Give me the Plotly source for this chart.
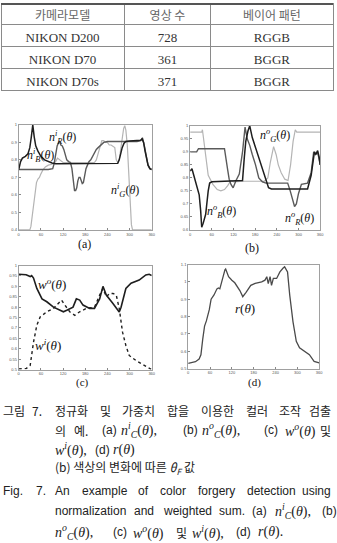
import plotly.graph_objects as go

W, H = 337, 543

# ---------------- table data ----------------
tbl_header = ["카메라모델", "영상 수", "베이어 패턴"]
tbl_models = ["NIKON D200", "NIKON D70", "NIKON D70s"]
tbl_counts = ["728", "361", "371"]
tbl_patterns = ["RGGB", "BGGR", "BGGR"]

# ---------------- (a) n_C^i ----------------
a_th_B = [0, 5, 10, 18, 25, 30, 34, 38, 42, 46, 52, 60, 70, 80, 90, 100, 130, 160, 190, 220, 250, 268, 272,
          276, 280, 285, 290, 300, 310, 320, 330, 334, 338, 342, 346, 350, 355, 360]
a_B = [0.745, 0.79, 0.81, 0.82, 0.835, 0.87, 0.93, 1.0, 0.93, 0.88, 0.85, 0.82, 0.80, 0.79, 0.782, 0.778, 0.778,
       0.778, 0.778, 0.778, 0.778, 0.78, 0.80, 0.84, 0.87, 0.895, 0.905, 0.908, 0.91, 0.91, 0.912, 0.92, 0.9,
       0.85, 0.8, 0.77, 0.75, 0.745]
a_th_R = [0, 20, 40, 60, 80, 92, 96, 100, 104, 108, 111, 114, 118, 122, 126, 130, 135, 140, 144, 148, 151, 154,
          157, 160, 163, 166, 169, 172, 175, 178, 182, 186, 190, 195, 200, 205, 210, 215, 220, 225, 230, 240,
          260, 280, 300, 320, 330, 335, 340, 345, 350, 355, 360]
a_R = [0.745, 0.745, 0.745, 0.745, 0.745, 0.75, 0.78, 0.83, 0.88, 0.9, 0.905, 0.885, 0.88, 0.86, 0.83, 0.8,
       0.79, 0.785, 0.75, 0.68, 0.625, 0.625, 0.64, 0.68, 0.7, 0.7, 0.68, 0.665, 0.67, 0.71, 0.75, 0.77, 0.79,
       0.8, 0.82, 0.84, 0.86, 0.87, 0.88, 0.89, 0.9, 0.905, 0.905, 0.905, 0.905, 0.905, 0.91, 0.925, 0.88,
       0.82, 0.77, 0.75, 0.745]
a_th_G = [0, 30, 33, 36, 40, 44, 48, 52, 56, 60, 66, 72, 80, 90, 100, 105, 110, 115, 120, 150, 180, 205, 210,
          215, 220, 225, 230, 235, 240, 245, 250, 255, 260, 264, 268, 272, 276, 280, 284, 287, 290, 294, 298,
          302, 305, 308, 320, 340, 360]
a_G = [0.4, 0.4, 0.42, 0.47, 0.55, 0.62, 0.67, 0.69, 0.7, 0.72, 0.745, 0.76, 0.77, 0.775, 0.79, 0.81, 0.8,
       0.79, 0.785, 0.785, 0.785, 0.785, 0.8, 0.84, 0.88, 0.91, 0.91, 0.9, 0.9, 0.885, 0.885, 0.875, 0.87, 0.8,
       0.785, 0.8, 0.86, 0.93, 0.98, 0.995, 0.97, 0.88, 0.7, 0.52, 0.43, 0.4, 0.4, 0.4, 0.4]

# ---------------- (b) n_C^o ----------------
b_th_R = [0, 18, 23, 95, 104, 108, 113, 119, 127, 136, 145, 152, 158, 165, 172, 181, 190, 200, 210, 270, 277,
          283, 289, 294, 300, 308, 325, 335, 342, 347, 352, 356, 360]
b_R = [0.9, 0.9, 0.912, 0.912, 0.83, 0.795, 0.775, 0.762, 0.79, 0.815, 0.9, 0.995, 0.95, 0.925, 0.89, 0.85,
       0.8, 0.785, 0.78, 0.78, 0.75, 0.72, 0.69, 0.7, 0.74, 0.775, 0.78, 0.82, 0.9, 0.89, 0.9, 0.88, 0.85]
b_th_B = [0, 5, 10, 18, 25, 29, 32, 36, 43, 50, 54, 60, 145, 150, 154, 160, 165, 172, 181, 194, 208, 217, 225,
          325, 335, 340, 344, 348, 353, 357, 360]
b_B = [0.826, 0.835, 0.81, 0.775, 0.735, 0.675, 0.61, 0.625, 0.66, 0.75, 0.78, 0.785, 0.79, 0.88, 0.94, 0.98,
       1.0, 0.955, 0.915, 0.865, 0.795, 0.762, 0.757, 0.757, 0.81, 0.87, 0.9, 0.89, 0.905, 0.88, 0.85]
b_th_G = [0, 32, 34, 36, 41, 50, 63, 75, 85, 95, 104, 113, 120, 150, 205, 215, 222, 231, 238, 244, 252, 262,
          271, 278, 285, 291, 295, 360]
b_G = [0.976, 0.976, 0.985, 0.96, 0.915, 0.81, 0.775, 0.755, 0.75, 0.755, 0.77, 0.79, 0.785, 0.787, 0.787, 0.8,
       0.86, 0.92, 0.89, 0.85, 0.82, 0.795, 0.79, 0.85, 0.94, 0.985, 0.976, 0.976]

# ---------------- (c) w^o, w^i ----------------
c_th_o = [0, 20, 31, 35, 40, 49, 63, 76, 94, 112, 121, 130, 147, 156, 165, 174, 192, 205, 219, 228, 237, 255,
          268, 272, 277, 290, 304, 326, 344, 353, 360]
c_wo = [0.958, 0.956, 0.947, 0.952, 0.94, 0.89, 0.84, 0.826, 0.80, 0.785, 0.778, 0.785, 0.80, 0.84, 0.834,
        0.81, 0.794, 0.794, 0.84, 0.9, 0.858, 0.818, 0.785, 0.777, 0.8, 0.89, 0.915, 0.93, 0.955, 0.958, 0.952]
c_th_i = [0, 20, 31, 40, 49, 58, 76, 94, 107, 116, 125, 138, 152, 165, 183, 205, 219, 228, 237, 246, 255, 264,
          272, 281, 290, 299, 317, 335, 353, 360]
c_wi = [0.503, 0.505, 0.52, 0.632, 0.713, 0.753, 0.778, 0.794, 0.818, 0.834, 0.81, 0.778, 0.761, 0.778,
        0.794, 0.80, 0.858, 0.89, 0.85, 0.866, 0.866, 0.858, 0.794, 0.68, 0.616, 0.568, 0.544, 0.527, 0.51, 0.5]

# ---------------- (d) r ----------------
d_th = [0, 10, 20, 30, 35, 40, 45, 50, 58, 63, 71, 79, 83, 87, 95, 101, 103, 111, 120, 128, 142, 150, 159,
        172, 184, 202, 211, 216, 220, 225, 229, 234, 243, 252, 261, 265, 273, 279, 288, 297, 306, 319, 333,
        346, 360]
d_r = [0.53, 0.535, 0.54, 0.555, 0.58, 0.67, 0.745, 0.775, 0.84, 0.9, 0.925, 0.96, 0.965, 0.96, 1.03, 1.07,
       1.075, 1.03, 1.01, 0.995, 0.95, 0.915, 0.94, 0.98, 0.991, 1.0, 1.01, 1.03, 0.99, 1.03, 0.98, 1.02, 1.02,
       1.058, 1.08, 1.087, 1.058, 0.924, 0.77, 0.657, 0.62, 0.6, 0.58, 0.542, 0.533]

x_ticks = [0, 60, 120, 180, 240, 300, 360]
a_yticks = [0.4, 0.5, 0.6, 0.7, 0.8, 0.9, 1.0]
b_yticks = [0.6, 0.65, 0.7, 0.75, 0.8, 0.85, 0.9, 0.95, 1.0]
c_yticks = [0.5, 0.55, 0.6, 0.65, 0.7, 0.75, 0.8, 0.85, 0.9, 0.95, 1.0]
d_yticks = [0.5, 0.6, 0.7, 0.8, 0.9, 1.0, 1.1]


def px(x):
    return x / W


def py(y):
    return 1 - y / H


def lab(v):
    s = ("%.2f" % v).rstrip("0").rstrip(".")
    return s


BLACK = "#1e1e1e"
DARK = "#5a5a5a"
LIGHT = "#b4b4b4"

fig = go.Figure()

fig.add_trace(go.Table(
    domain=dict(x=[0, 1], y=[py(89), py(0)]),
    columnwidth=[125, 88, 124],
    header=dict(values=tbl_header, height=21, align="center",
                font=dict(family="Noto Sans CJK KR", size=12, color="#666"),
                line=dict(color="#8a8a8a", width=1), fill=dict(color="white")),
    cells=dict(values=[tbl_models, tbl_counts, tbl_patterns], height=22, align="center",
               font=dict(family="Liberation Serif", size=13, color="#333"),
               line=dict(color="#8a8a8a", width=1), fill=dict(color="white")),
))

# (a)
fig.add_trace(go.Scatter(x=a_th_G, y=a_G, mode="lines", line=dict(color=LIGHT, width=1.2), xaxis="x", yaxis="y"))
fig.add_trace(go.Scatter(x=a_th_R, y=a_R, mode="lines", line=dict(color=DARK, width=1.4), xaxis="x", yaxis="y"))
fig.add_trace(go.Scatter(x=a_th_B, y=a_B, mode="lines", line=dict(color=BLACK, width=1.5), xaxis="x", yaxis="y"))
# (b)
fig.add_trace(go.Scatter(x=b_th_G, y=b_G, mode="lines", line=dict(color=LIGHT, width=1.2), xaxis="x2", yaxis="y2"))
fig.add_trace(go.Scatter(x=b_th_R, y=b_R, mode="lines", line=dict(color=DARK, width=1.4), xaxis="x2", yaxis="y2"))
fig.add_trace(go.Scatter(x=b_th_B, y=b_B, mode="lines", line=dict(color=BLACK, width=1.5), xaxis="x2", yaxis="y2"))
# (c)
fig.add_trace(go.Scatter(x=c_th_i, y=c_wi, mode="lines", line=dict(color=BLACK, width=1.4, dash="dot"),
                         xaxis="x3", yaxis="y3"))
fig.add_trace(go.Scatter(x=c_th_o, y=c_wo, mode="lines", line=dict(color=BLACK, width=1.6), xaxis="x3", yaxis="y3"))
# (d)
fig.add_trace(go.Scatter(x=d_th, y=d_r, mode="lines", line=dict(color="#4a4a4a", width=1.3), xaxis="x4", yaxis="y4"))


def xax(dom, anchor):
    return dict(domain=dom, anchor=anchor, range=[0, 360], tickvals=x_ticks, ticktext=[str(t) for t in x_ticks],
                showgrid=False, zeroline=False, showline=True, mirror=True, linecolor="#a0a0a0", linewidth=1,
                ticks="inside", ticklen=2, tickcolor="#888", tickfont=dict(size=4, color="#555",
                                                                       family="Liberation Sans"))


def yax(dom, anchor, rng, tv):
    return dict(domain=dom, anchor=anchor, range=rng, tickvals=tv, ticktext=[lab(t) for t in tv],
                showgrid=False, zeroline=False, showline=True, mirror=True, linecolor="#a0a0a0", linewidth=1,
                ticks="inside", ticklen=2, tickcolor="#888", tickfont=dict(size=4, color="#555",
                                                                       family="Liberation Sans"))


fig.update_layout(
    width=W, height=H, margin=dict(l=0, r=0, t=0, b=0), paper_bgcolor="white", plot_bgcolor="white",
    showlegend=False,
    xaxis=xax([px(18), px(153)], "y"), yaxis=yax([py(229), py(123)], "x", [0.4, 1.0], a_yticks),
    xaxis2=xax([px(192), px(324)], "y2"), yaxis2=yax([py(229), py(124)], "x2", [0.6, 1.0], b_yticks),
    xaxis3=xax([px(18), px(153)], "y3"), yaxis3=yax([py(370), py(265)], "x3", [0.5, 1.0], c_yticks),
    xaxis4=xax([px(190), px(323)], "y4"), yaxis4=yax([py(369), py(264)], "x4", [0.5, 1.1], d_yticks),
)

# top rule of the table
fig.add_shape(type="line", xref="paper", yref="paper", x0=0, x1=1, y0=py(1), y1=py(1),
              line=dict(color="#555", width=2))

SERIF = "Liberation Serif"
SANS = "Liberation Sans"
KR = "Noto Sans CJK KR"


def note(x, y, text, size=12, family=SERIF, anchor="center", color="#111"):
    fig.add_annotation(x=px(x), y=py(y), xref="paper", yref="paper", text=text, showarrow=False,
                       xanchor=anchor, yanchor="middle", font=dict(size=size, family=family, color=color))


def m(base, sup=None, sub=None, arg="θ"):
    s = "<i>%s</i>" % base
    if sup:
        s += "<sup><i>%s</i></sup>" % sup
    if sub:
        s += "<sub><i>%s</i></sub>" % sub
    s += "(<i>%s</i>)" % arg
    return s


# curve labels
note(62, 136, m("n", "i", "R"), 12)
note(40, 154, m("n", "i", "B"), 12)
note(126, 189, m("n", "i", "G"), 12)
note(278, 134, m("n", "o", "G"), 12)
note(224, 210, m("n", "o", "B"), 12)
note(303, 217, m("n", "o", "R"), 12)
note(52, 284, m("w", "o"), 13)
note(48, 345, m("w", "i"), 13)
note(248, 308, m("r"), 13)

# panel letters
note(85, 243, "(a)", 12)
note(255, 247, "(b)", 12)
note(83, 383, "(c)", 11)
note(257, 383, "(d)", 11)

# caption
CAP = "#222"
KS = 12
for x, t in [(0, "그림"), (29, "7."), (53, "정규화"), (98.7, "및"), (120.4, "가중치"), (166.1, "합을"),
             (200.8, "이용한"), (246.5, "컬러"), (280.2, "조작")]:
    note(x, 411, t, KS, KR, "left", CAP)
note(337, 411, "검출", KS, KR, "right", CAP)

MS = 14
note(53, 431, "의", KS, KR, "left", CAP)
note(72, 431, "예.", KS, KR, "left", CAP)
note(100, 431, "(a)", 12, SANS, "left", CAP)
note(120, 431, m("n", "i", "C") + ",", MS, SERIF, "left", CAP)
note(183, 431, "(b)", 12, SANS, "left", CAP)
note(202, 431, m("n", "o", "C") + ",", MS, SERIF, "left", CAP)
note(265, 431, "(c)", 12, SANS, "left", CAP)
note(286, 431, m("w", "o"), MS, SERIF, "left", CAP)
note(337, 431, "및", KS, KR, "right", CAP)

note(53, 451, m("w", "i") + ",", MS, SERIF, "left", CAP)
note(93, 451, "(d)", 12, SANS, "left", CAP)
note(112, 451, m("r"), MS, SERIF, "left", CAP)

note(53, 469, "(b) 색상의 변화에 따른 <i>θ</i><sub><i>F</i></sub> 값", KS, KR, "left", CAP)

ES = 12
for x, t in [(0, "Fig."), (33, "7."), (53, "An"), (80, "example"), (137.5, "of"), (159.7, "color"),
             (198, "forgery"), (247.4, "detection")]:
    note(x, 493, t, ES, SANS, "left", CAP)
note(337, 493, "using", ES, SANS, "right", CAP)

for x, t in [(53, "normalization"), (133, "and"), (162, "weighted"), (219, "sum."), (253, "(a)")]:
    note(x, 513, t, ES, SANS, "left", CAP)
note(276, 513, m("n", "i", "C") + ",", MS, SERIF, "left", CAP)
note(324, 513, "(b)", ES, SANS, "left", CAP)

note(53, 534, m("n", "o", "C") + ",", MS, SERIF, "left", CAP)
note(112, 534, "(c)", 12, SANS, "left", CAP)
note(132, 534, m("w", "o"), MS, SERIF, "left", CAP)
note(176, 534, "및", KS, KR, "left", CAP)
note(192, 534, m("w", "i") + ",", MS, SERIF, "left", CAP)
note(237, 534, "(d)", 12, SANS, "left", CAP)
note(259, 534, m("r") + ".", MS, SERIF, "left", CAP)

fig.write_html("out.html")
